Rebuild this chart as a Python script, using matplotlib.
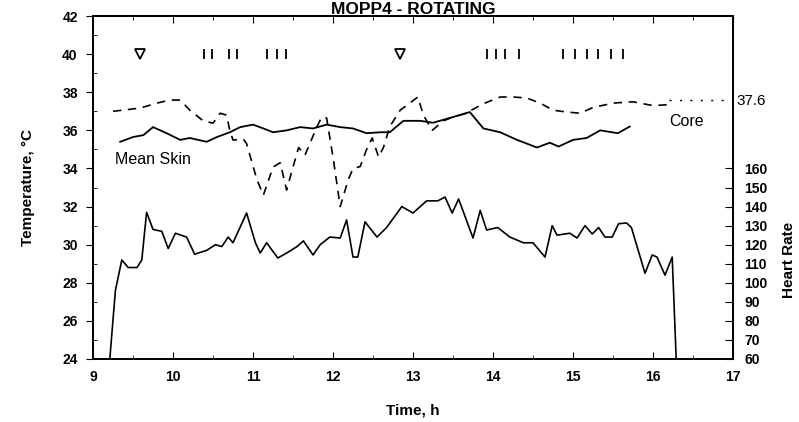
import matplotlib
matplotlib.use("Agg")
import matplotlib.pyplot as plt
from matplotlib.ticker import MultipleLocator, FixedLocator

plt.rcParams['font.family'] = ['Liberation Sans', 'DejaVu Sans']

title = "MOPP4 - ROTATING"

core_t = [9.25, 9.59, 9.8, 9.96, 10.09, 10.21, 10.38, 10.5, 10.59, 10.67, 10.71, 10.75, 10.88, 10.92, 11.05,
          11.13, 11.25, 11.34, 11.42, 11.5, 11.57, 11.65, 11.74, 11.8, 11.86, 11.92, 12.0, 12.09, 12.19, 12.25,
          12.34, 12.42, 12.49, 12.57, 12.63, 12.71, 12.84, 12.96, 13.06, 13.13, 13.24, 13.38, 13.5, 13.67, 13.73,
          13.88, 14.09, 14.25, 14.42, 14.59, 14.75, 14.92, 15.09, 15.25, 15.5, 15.75, 16.0, 16.2]
core_v = [37.0, 37.17, 37.43, 37.59, 37.59, 37.06, 36.49, 36.38, 36.9, 36.8, 36.0, 35.49, 35.54, 35.3, 33.4,
          32.6, 34.07, 34.3, 32.87, 34.07, 35.1, 34.7, 35.6, 36.2, 36.7, 36.65, 34.6, 32.0, 33.4, 34.0,
          34.1, 35.0, 35.6, 34.6, 35.1, 36.2, 37.06, 37.43, 37.75, 36.8, 36.0, 36.5, 36.7, 36.9, 37.06,
          37.4, 37.75, 37.75, 37.7, 37.43, 37.06, 36.96, 36.9, 37.2, 37.43, 37.5, 37.3, 37.35]
core_tail_t = [16.2, 17.0]
core_tail_v = [37.6, 37.6]

skin_t = [9.34, 9.5, 9.63, 9.75, 9.92, 10.09, 10.21, 10.42, 10.55, 10.71, 10.84, 11.0, 11.13, 11.25, 11.42,
          11.59, 11.75, 11.92, 12.09, 12.25, 12.42, 12.59, 12.71, 12.88, 13.09, 13.25, 13.5, 13.71, 13.88, 14.09,
          14.3, 14.55, 14.71, 14.82, 15.0, 15.17, 15.34, 15.56, 15.71]
skin_v = [35.4, 35.65, 35.75, 36.17, 35.85, 35.5, 35.6, 35.4, 35.65, 35.9, 36.17, 36.3, 36.1, 35.9, 36.0,
          36.17, 36.1, 36.3, 36.17, 36.1, 35.85, 35.9, 35.9, 36.5, 36.5, 36.4, 36.7, 36.96, 36.1, 35.9,
          35.5, 35.1, 35.35, 35.15, 35.5, 35.6, 36.0, 35.85, 36.2]

hr_t = [9.21, 9.28, 9.36, 9.44, 9.55, 9.61, 9.67, 9.75, 9.86, 9.94, 10.03, 10.17, 10.27, 10.42, 10.53,
        10.61, 10.69, 10.75, 10.92, 11.03, 11.09, 11.17, 11.31, 11.42, 11.55, 11.63, 11.75, 11.84, 11.96, 12.09,
        12.17, 12.25, 12.31, 12.4, 12.55, 12.67, 12.86, 13.0, 13.17, 13.31, 13.4, 13.49, 13.57, 13.75, 13.84,
        13.92, 14.06, 14.21, 14.38, 14.5, 14.65, 14.74, 14.8, 14.96, 15.05, 15.15, 15.24, 15.32, 15.4, 15.49,
        15.57, 15.67, 15.73, 15.84, 15.9, 15.99, 16.05, 16.15, 16.24, 16.29]
hr_v = [60, 96, 112, 108, 108, 112, 137, 128, 127, 118, 126, 124, 115, 117, 120,
        119, 124, 121, 136.6, 121, 115.6, 121, 113, 115.6, 119, 122, 114.6, 120, 124, 123.5,
        133, 113.5, 113.5, 132, 124, 129, 140, 136.6, 143, 143, 145, 136.6, 144, 123.5, 138,
        127.7, 129, 124, 121, 121, 113.5, 130, 125, 126, 123.5, 130, 125.6, 129, 124, 124,
        131, 131.4, 129, 113.5, 105, 114.6, 113.5, 104, 113.5, 60]

tri_t = [9.59, 12.84]
tick_t = [10.39, 10.49, 10.70, 10.80, 11.17, 11.30, 11.41,
          13.93, 14.04, 14.15, 14.32,
          14.88, 15.03, 15.18, 15.31, 15.48, 15.63]
marker_level = 40

x_ticks = [9, 10, 11, 12, 13, 14, 15, 16, 17]
y_ticks = [24, 26, 28, 30, 32, 34, 36, 38, 40, 42]
hr_ticks = [60, 70, 80, 90, 100, 110, 120, 130, 140, 150, 160]

fig = plt.figure(figsize=(7.99, 4.22), dpi=100)
ax = fig.add_axes([0.1164, 0.1493, 0.8010, 0.8127])
ax2 = ax.twinx()

ax.plot(core_t, core_v, color='black', lw=1.2, ls=(0, (5, 4)))
ax.plot(core_tail_t, core_tail_v, color='black', lw=1.0, ls=(0, (1.5, 6)))
ax.plot(skin_t, skin_v, color='black', lw=1.3)
ax2.plot(hr_t, hr_v, color='black', lw=1.2)

ax.plot(tri_t, [marker_level] * len(tri_t), ls='none', marker='v', ms=7,
        markerfacecolor='white', markeredgecolor='black', markeredgewidth=1.3)
ax.plot(tick_t, [marker_level] * len(tick_t), ls='none', marker='|', ms=7,
        markeredgecolor='black', markeredgewidth=1.3)

ax.set_xlim(9, 17)
ax.set_ylim(24, 42)
ax2.set_ylim(60, 240)

ax.set_xticks(x_ticks)
ax.set_xticklabels([str(v) for v in x_ticks], fontsize=10, fontweight='bold')
ax.xaxis.set_minor_locator(MultipleLocator(0.5))
ax.tick_params(axis='x', which='both', direction='in', top=True, length=5, pad=8)
ax.tick_params(axis='x', which='minor', length=3)

ax.set_yticks(y_ticks)
ax.set_yticklabels([str(v) for v in y_ticks], fontsize=10, fontweight='bold')
ax.yaxis.set_minor_locator(FixedLocator([25, 27, 29, 31, 33, 35, 37, 39, 41]))
ax.tick_params(axis='y', which='major', direction='out', length=5, pad=6)
ax.tick_params(axis='y', which='minor', direction='in', length=3)

ax2.set_yticks(hr_ticks)
ax2.set_yticklabels([str(v) for v in hr_ticks], fontsize=10, fontweight='bold')
ax2.tick_params(axis='y', direction='in', length=6, pad=8)

for a in (ax, ax2):
    for s in a.spines.values():
        s.set_linewidth(1.3)

ax.text(9.27, 34.45, "Mean Skin", fontsize=11.5, va='center', ha='left')
ax.text(16.2, 36.45, "Core", fontsize=11.5, va='center', ha='left')
ax.text(1.005, 37.55, "37.6", transform=ax.get_yaxis_transform(), fontsize=11,
        va='center', ha='left')

fig.text(0.517, 0.968, title, fontsize=12.5, fontweight='bold', ha='center', va='baseline')
fig.text(0.517, 0.028, "Time, h", fontsize=11, fontweight='bold', ha='center', va='center')
fig.text(0.035, 0.555, "Temperature, °C", fontsize=11, fontweight='bold', rotation=90,
         ha='center', va='center')
fig.text(0.988, 0.385, "Heart Rate", fontsize=11, fontweight='bold', rotation=90,
         ha='center', va='center')

fig.savefig("out.png", dpi=100)
